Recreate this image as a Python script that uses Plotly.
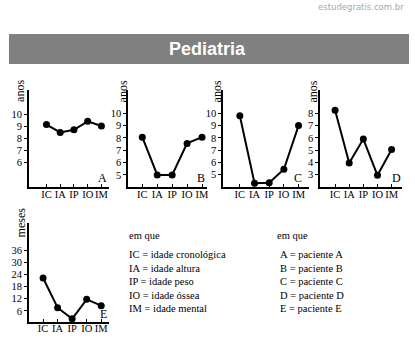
import plotly.graph_objects as go

W, H = 415, 356

categories = ["IC", "IA", "IP", "IO", "IM"]
pac_A = [9.15, 8.5, 8.72, 9.42, 9.03]
pac_B = [8.05, 5.0, 5.0, 7.55, 8.05]
pac_C = [9.8, 4.3, 4.35, 5.45, 9.0]
pac_D = [8.25, 3.95, 5.9, 2.95, 5.05]
pac_E = [22.2, 7.6, 2.1, 11.7, 8.6]

ticks_A = [6, 7, 8, 9, 10]
ticks_B = [5, 6, 7, 8, 9, 10]
ticks_C = [5, 6, 7, 8, 9, 10]
ticks_D = [3, 4, 5, 6, 7, 8]
ticks_E = [6, 12, 18, 24, 30, 36]

legend_left = ["em que", "IC = idade cronológica", "IA = idade altura", "IP = idade peso",
               "IO = idade óssea", "IM = idade mental"]
legend_right = ["em que", "A = paciente A", "B = paciente B", "C = paciente C",
                "D = paciente D", "E = paciente E"]


def fx(p):
    return p / W


def fy(p):
    return 1 - p / H


SERIF = "Liberation Serif"

panels = [
    dict(l=29.3, r=110, t=90, b=187, ic=46.7, s=13.8, yr=[4.0, 12.0], tv=ticks_A, d=pac_A,
         letter="A", lx=103, ly=178, yt="anos", tx=20, ty=91),
    dict(l=129, r=208, t=90, b=187, ic=143, s=15.0, yr=[4.03, 11.86], tv=ticks_B, d=pac_B,
         letter="B", lx=201.5, ly=177.5, yt="anos", tx=124, ty=91),
    dict(l=224.5, r=310, t=90, b=187, ic=241, s=14.75, yr=[4.0, 11.9], tv=ticks_C, d=pac_C,
         letter="C", lx=299.5, ly=177.5, yt="anos", tx=218.5, ty=91),
    dict(l=322, r=404, t=90, b=187, ic=336.7, s=14.2, yr=[2.0, 9.9], tv=ticks_D, d=pac_D,
         letter="D", lx=398, ly=177.5, yt="anos", tx=315, ty=91),
    dict(l=29.3, r=110, t=223, b=321.7, ic=43.3, s=14.6, yr=[0.7, 49.3], tv=ticks_E, d=pac_E,
         letter="E", lx=104, ly=314, yt="meses", tx=21.5, ty=222),
]

fig = go.Figure()
layout = dict(
    width=W, height=H, margin=dict(l=0, r=0, t=0, b=0),
    paper_bgcolor="white", plot_bgcolor="rgba(0,0,0,0)", showlegend=False,
    shapes=[], annotations=[],
)

for i, p in enumerate(panels):
    n = "" if i == 0 else str(i + 1)
    xs = list(range(len(categories)))
    fig.add_trace(go.Scatter(
        x=xs, y=p["d"], mode="lines+markers", xaxis="x" + n, yaxis="y" + n,
        line=dict(color="black", width=2), marker=dict(color="black", size=7),
        hoverinfo="skip", cliponaxis=False,
    ))
    r0 = -(p["ic"] - p["l"]) / p["s"]
    r1 = (len(categories) - 1) + (p["r"] - (p["ic"] + 4 * p["s"])) / p["s"]
    layout["xaxis" + n] = dict(
        domain=[fx(p["l"]), fx(p["r"])], range=[r0, r1], anchor="y" + n,
        showline=True, linecolor="black", linewidth=2, showgrid=False, zeroline=False,
        tickvals=xs, ticktext=categories, ticks="inside", ticklen=3, tickwidth=1,
        tickcolor="black", tickangle=0, ticklabelstandoff=-4,
        tickfont=dict(family=SERIF, size=10.5, color="black"),
        fixedrange=True,
    )
    layout["yaxis" + n] = dict(
        domain=[fy(p["b"]), fy(p["t"])], range=p["yr"], anchor="x" + n,
        showline=True, linecolor="black", linewidth=2, showgrid=False, zeroline=False,
        tickvals=p["tv"], ticks="outside", ticklen=3, tickwidth=1, tickcolor="black",
        tickfont=dict(family=SERIF, size=10.5, color="black"), fixedrange=True,
    )
    layout["annotations"].append(dict(
        text=p["letter"], x=fx(p["lx"]), y=fy(p["ly"]), xref="paper", yref="paper",
        showarrow=False, xanchor="center", yanchor="middle",
        font=dict(family=SERIF, size=12, color="black"),
    ))
    layout["annotations"].append(dict(
        text=p["yt"], x=fx(p["tx"]), y=fy(p["ty"]), xref="paper", yref="paper",
        showarrow=False, xanchor="center", yanchor="middle", textangle=-90,
        font=dict(family=SERIF, size=12, color="black"),
    ))

layout["shapes"].append(dict(
    type="rect", xref="paper", yref="paper", x0=fx(9), x1=fx(411), y0=fy(64), y1=fy(34),
    fillcolor="#808080", line=dict(width=0), layer="below",
))
layout["annotations"].append(dict(
    text="<b>Pediatria</b>", x=fx(209), y=fy(49), xref="paper", yref="paper",
    showarrow=False, xanchor="center", yanchor="middle",
    font=dict(family="Liberation Sans", size=18, color="white"),
))
layout["annotations"].append(dict(
    text="estudegratis.com.br", x=fx(408), y=fy(7), xref="paper", yref="paper",
    showarrow=False, xanchor="right", yanchor="middle",
    font=dict(family="DejaVu Sans", size=8.5, color="#a8a8a8"),
))

ys = [235, 254.3, 268, 281.7, 295, 308.3]
for txt, yy in zip(legend_left, ys):
    layout["annotations"].append(dict(
        text=txt, x=fx(128), y=fy(yy), xref="paper", yref="paper", showarrow=False,
        xanchor="left", yanchor="middle", font=dict(family=SERIF, size=10.5, color="black"),
    ))
for j, (txt, yy) in enumerate(zip(legend_right, ys)):
    layout["annotations"].append(dict(
        text=txt, x=fx(276.5 if j == 0 else 279), y=fy(yy), xref="paper", yref="paper",
        showarrow=False, xanchor="left", yanchor="middle",
        font=dict(family=SERIF, size=10.5, color="black"),
    ))

fig.update_layout(**layout)
fig.write_html("out.html", config={"displayModeBar": False, "staticPlot": True},
               post_script="document.body.style.margin='0';")
